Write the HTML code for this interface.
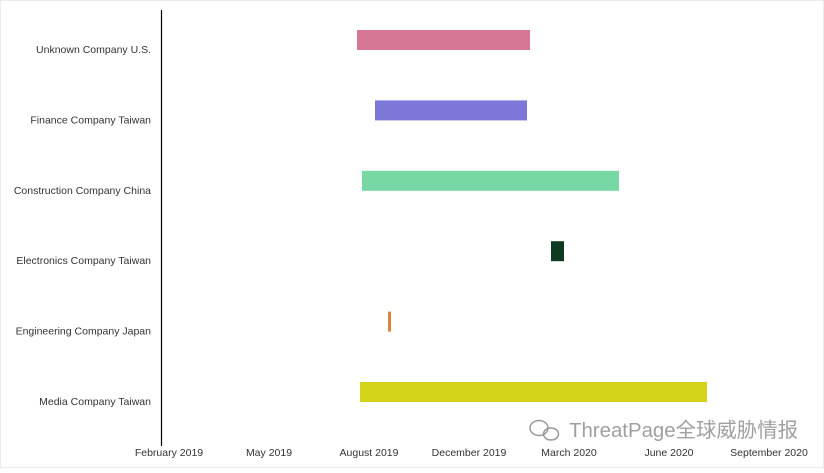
<!DOCTYPE html>
<html><head><meta charset="utf-8"><style>
body{margin:0;background:#fff;font-family:"Liberation Sans",sans-serif}
svg text{font-family:"Liberation Sans","Noto Sans CJK SC",sans-serif}
</style></head><body>
<svg width="824" height="468">
<rect x="0" y="0" width="824" height="468" fill="#fff" stroke="#d9d9d9"/>
<g id="bars"></g><g id="ylabels"></g><g id="xlabels"></g>
<line x1="161.5" y1="10" x2="161.5" y2="446" stroke="#000" stroke-width="1.2"/>
<g fill="#999">
<ellipse cx="539" cy="428" rx="9" ry="7.5" fill="none" stroke="#999" stroke-width="1.5"/>
<ellipse cx="551" cy="434" rx="7.5" ry="6" fill="none" stroke="#999" stroke-width="1.5"/>
<text x="569" y="437" font-size="20.5" fill="#a0a0a0" textLength="229" lengthAdjust="spacingAndGlyphs">ThreatPage全球威胁情报</text>
</g>
</svg>
<script>
const categories=["Unknown Company U.S.","Finance Company Taiwan","Construction Company China","Electronics Company Taiwan","Engineering Company Japan","Media Company Taiwan"];
const startDays=[188,206,193,382,219,191];
const endDays=[361,358,450,395,222,538];
const colors=["#d87695","#7c77d8","#77d8a6","#0e3a22","#d8873c","#d4d41a"];
const tickDays=[0,100,200,300,400,500,600];
const tickLabels=["February 2019","May 2019","August 2019","December 2019","March 2020","June 2020","September 2020"];
const NS="http://www.w3.org/2000/svg";
const x=d=>169+d*1.0;
const yc=i=>40+i*70.4;
const bars=document.getElementById('bars'),yl=document.getElementById('ylabels'),xl=document.getElementById('xlabels');
categories.forEach((c,i)=>{
 const r=document.createElementNS(NS,'rect');
 const w=Math.max(3,x(endDays[i])-x(startDays[i]));
 r.setAttribute('x',x(startDays[i]));r.setAttribute('y',yc(i)-10);
 r.setAttribute('width',w);r.setAttribute('height',20);r.setAttribute('fill',colors[i]);
 
 
 bars.appendChild(r);
 const t=document.createElementNS(NS,'text');
 t.setAttribute('x',151);t.setAttribute('y',yc(i)+13);t.setAttribute('text-anchor','end');
 t.setAttribute('font-size','10.5');t.setAttribute('fill','#333');t.textContent=c;
 
 
 yl.appendChild(t);
});
tickDays.forEach((d,i)=>{
 const t=document.createElementNS(NS,'text');
 t.setAttribute('x',x(d));t.setAttribute('y',456);t.setAttribute('text-anchor','middle');
 t.setAttribute('font-size','10.5');t.setAttribute('fill','#333');t.textContent=tickLabels[i];
 
 
 xl.appendChild(t);
});
</script>
</body></html>
